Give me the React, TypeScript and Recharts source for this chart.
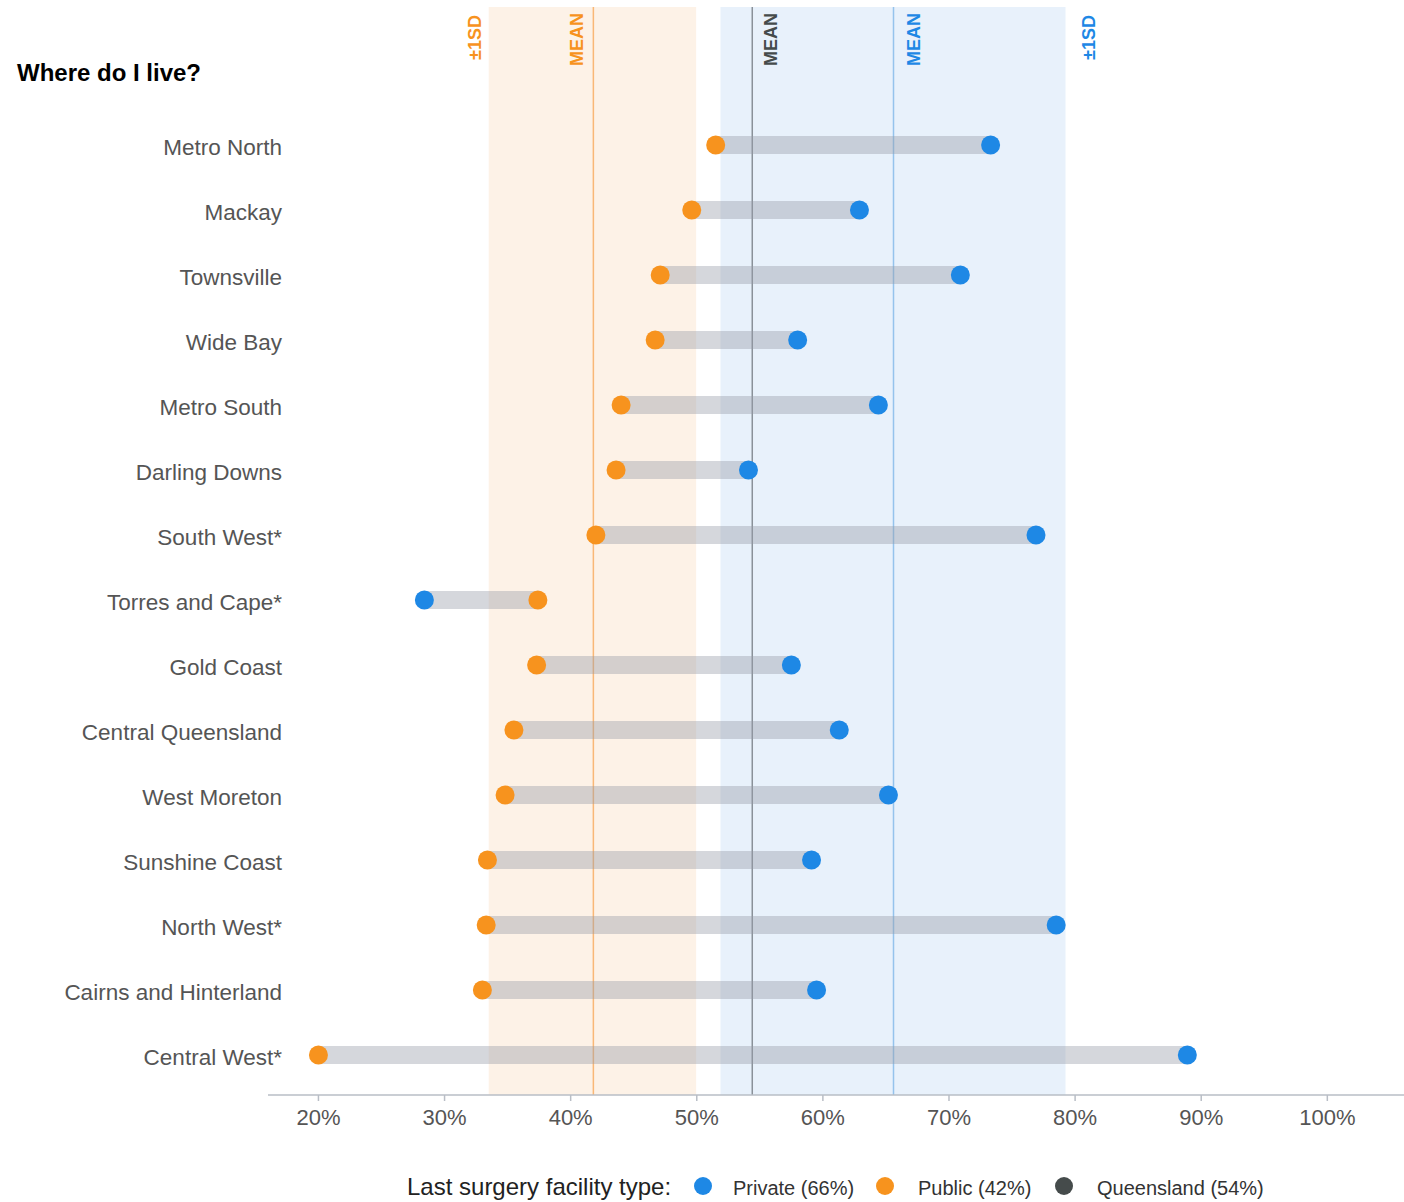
import React from 'react';
import {
  ComposedChart,
  Scatter,
  XAxis,
  YAxis,
  ReferenceArea,
  ReferenceLine,
} from 'recharts';

const categories = [
  'Metro North',
  'Mackay',
  'Townsville',
  'Wide Bay',
  'Metro South',
  'Darling Downs',
  'South West*',
  'Torres and Cape*',
  'Gold Coast',
  'Central Queensland',
  'West Moreton',
  'Sunshine Coast',
  'North West*',
  'Cairns and Hinterland',
  'Central West*',
];

const publicValues = [51.5, 49.6, 47.1, 46.7, 44.0, 43.6, 42.0, 37.4, 37.3, 35.5, 34.8, 33.4, 33.3, 33.0, 20.0];
const privateValues = [73.3, 62.9, 70.9, 58.0, 64.4, 54.1, 76.9, 28.4, 57.5, 61.3, 65.2, 59.1, 78.5, 59.5, 88.9];

const publicMean = 41.8;
const privateMean = 65.6;
const queenslandMean = 54.4;
const publicBand = [33.5, 49.95];
const privateBand = [51.88, 79.24];

const xTicks = [20, 30, 40, 50, 60, 70, 80, 90, 100];
const xDomain = [16, 106.08];
const yDomain = [-2.123, 14.615];

const legendItems = [
  { label: 'Private (66%)', color: '#1E88E5' },
  { label: 'Public (42%)', color: '#F7931E' },
  { label: 'Queensland (54%)', color: '#454B4B' },
];

const BLUE = '#1E88E5';
const ORANGE = '#F7931E';
const DARK = '#454B4B';
const FONT = '"Liberation Sans", Arial, sans-serif';

const privatePoints = categories.map((c, i) => ({ x: privateValues[i], y: i, name: c }));
const publicPoints = categories.map((c, i) => ({ x: publicValues[i], y: i, name: c }));
const rowIdx = categories.map((_, i) => i);

const makeDot = (color: string) => (props: any) => (
  <circle cx={props.cx} cy={props.cy} r={9.5} fill={color} />
);

const VLabel = (text: string, color: string, dx: number, top: number) => (props: any) => {
  const vb = props.viewBox || {};
  const x = vb.x + (vb.width || 0) * (dx > 0 ? 1 : 0) + dx;
  return (
    <text
      transform={`translate(${x}, ${top}) rotate(-90)`}
      textAnchor="end"
      dominantBaseline="central"
      fontFamily={FONT}
      fontWeight="bold"
      fontSize={18}
      fill={color}
    >
      {text}
    </text>
  );
};

const YTick = (props: any) => {
  const { x, y, payload } = props;
  return (
    <text x={x + 14} y={y} dy={10} textAnchor="end" fontFamily={FONT} fontSize={22.5} fill="#555">
      {categories[payload.value]}
    </text>
  );
};

export default function App() {
  return (
    <div style={{ position: 'absolute', left: 0, top: 0, width: 1404, height: 1202, background: '#fff', fontFamily: FONT }}>
      <div style={{ position: 'absolute', left: 17, top: 58, fontSize: 24, fontWeight: 'bold', color: '#000', lineHeight: '30px' }}>
        Where do I live?
      </div>
      <ComposedChart
        width={1404}
        height={1202}
        margin={{ top: 7, right: 0, bottom: 77, left: 0 }}
      >
        <XAxis
          type="number"
          dataKey="x"
          domain={xDomain}
          ticks={xTicks}
          allowDataOverflow
          tickFormatter={(v: number) => `${v}%`}
          height={30}
          axisLine={{ stroke: '#B9BEC6', strokeWidth: 1.5 }}
          tickLine={{ stroke: '#B9BEC6', strokeWidth: 1.5 }}
          tickSize={6}
          tickMargin={8}
          tick={{ fontFamily: FONT, fontSize: 22, fill: '#555' }}
        />
        <YAxis
          type="number"
          dataKey="y"
          domain={yDomain}
          allowDataOverflow
          reversed
          ticks={rowIdx}
          interval={0}
          width={268}
          axisLine={false}
          tickLine={false}
          tickSize={0}
          tickMargin={0}
          tick={<YTick />}
        />
        <ReferenceArea
          x1={publicBand[0]}
          x2={publicBand[1]}
          fill="#FDF2E7"
          fillOpacity={1}
          stroke="none"
          label={VLabel('±1SD', ORANGE, -14, 15)}
        />
        <ReferenceArea
          x1={privateBand[0]}
          x2={privateBand[1]}
          fill="#E8F1FB"
          fillOpacity={1}
          stroke="none"
          label={VLabel('±1SD', BLUE, 23, 15)}
        />
        <ReferenceLine x={publicMean} stroke="#F9B877" strokeWidth={1.5} label={VLabel('MEAN', ORANGE, -16, 13)} />
        <ReferenceLine x={queenslandMean} stroke="#8A9199" strokeWidth={1.5} label={VLabel('MEAN', DARK, 19, 13)} />
        <ReferenceLine x={privateMean} stroke="#95C3EC" strokeWidth={1.5} label={VLabel('MEAN', BLUE, 20, 13)} />
        {rowIdx.map((i) => (
          <ReferenceLine
            key={i}
            segment={[
              { x: publicValues[i], y: i },
              { x: privateValues[i], y: i },
            ]}
            stroke="rgb(150,156,168)"
            strokeOpacity={0.4}
            strokeWidth={18}
          />
        ))}
        <Scatter data={privatePoints} fill={BLUE} shape={makeDot(BLUE)} isAnimationActive={false} />
        <Scatter data={publicPoints} fill={ORANGE} shape={makeDot(ORANGE)} isAnimationActive={false} />
      </ComposedChart>
      <div style={{ position: 'absolute', left: 407, top: 1172, fontSize: 24, color: '#222', lineHeight: '30px', whiteSpace: 'nowrap' }}>
        Last surgery facility type:
      </div>
      {legendItems.map((it, k) => {
        const dotX = [703, 885, 1064][k];
        const textX = [733, 918, 1097][k];
        return (
          <React.Fragment key={it.label}>
            <div style={{ position: 'absolute', left: dotX - 9, top: 1177, width: 18, height: 18, borderRadius: 9, background: it.color }} />
            <div style={{ position: 'absolute', left: textX, top: 1175, fontSize: 20, color: '#333', lineHeight: '26px', whiteSpace: 'nowrap' }}>
              {it.label}
            </div>
          </React.Fragment>
        );
      })}
    </div>
  );
}
